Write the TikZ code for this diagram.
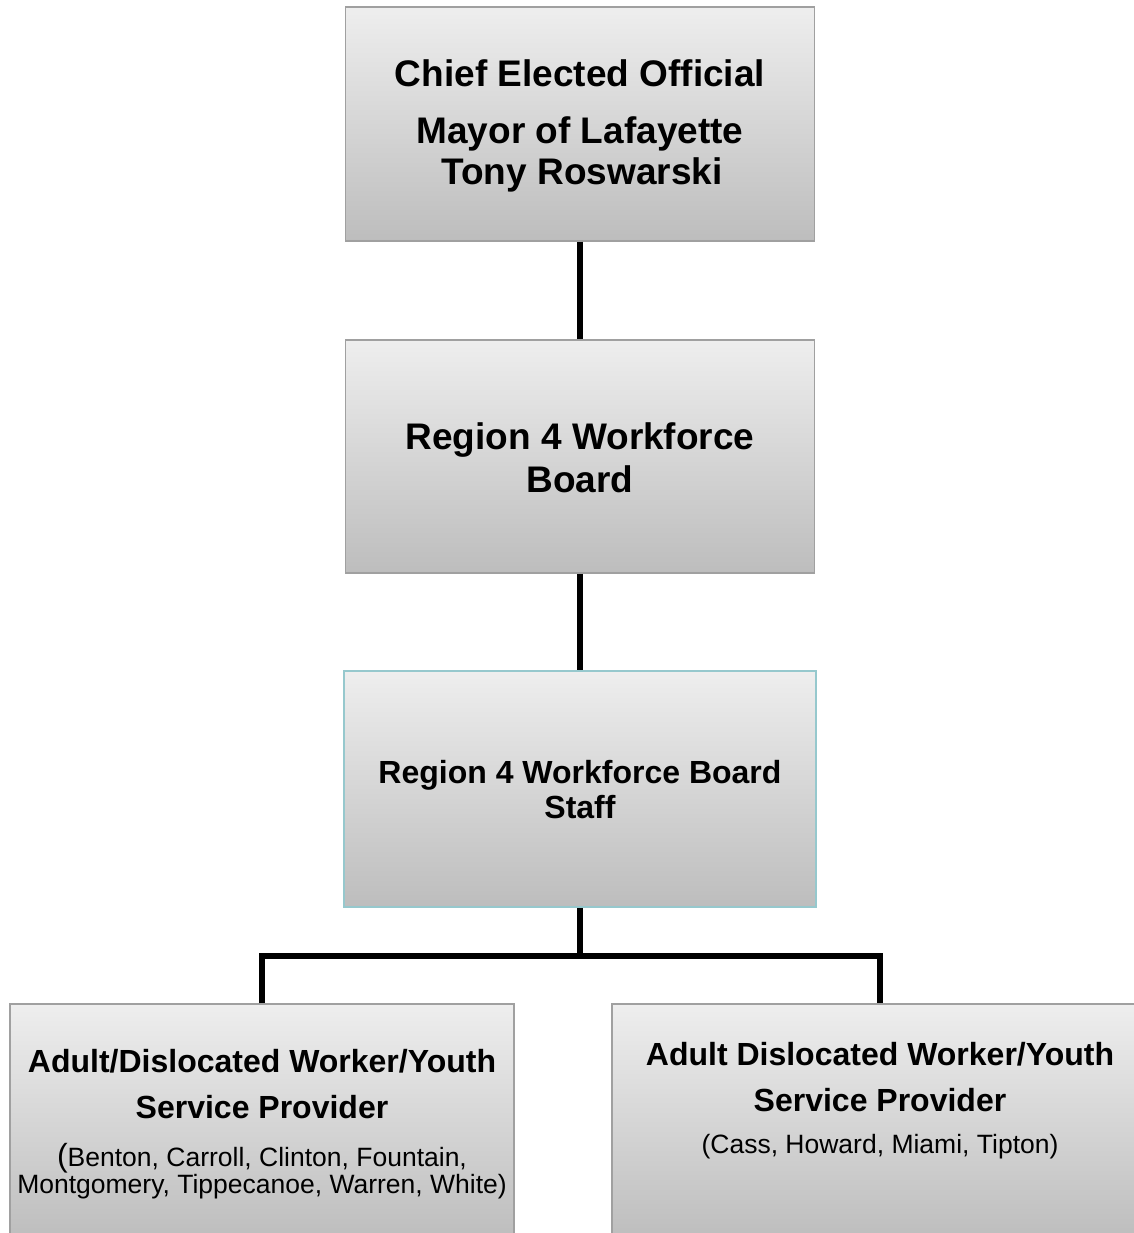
\documentclass[tikz,border=0pt]{standalone}
\usepackage{fontspec}
\setmainfont{Liberation Sans}
\definecolor{boxtop}{RGB}{238,238,238}
\definecolor{boxbottom}{RGB}{189,189,189}
\definecolor{boxline}{RGB}{160,160,160}
\definecolor{staffline}{RGB}{150,200,205}
\begin{document}
\begin{tikzpicture}[x=1pt,y=-1pt,
	every node/.append style={inner sep=0pt},
	orgbox/.style={rectangle, draw=boxline, line width=1.5pt, top color=boxtop, bottom color=boxbottom},
	bigtext/.style={anchor=base, font=\fontsize{37}{40}\selectfont\bfseries},
	midtext/.style={anchor=base, font=\fontsize{32}{35}\selectfont\bfseries},
	smalltext/.style={anchor=base, font=\fontsize{26.5}{28}\selectfont},
	stem/.style={line width=6pt, black}]
		\useasboundingbox (0,0) rectangle (1134,1233);
		\clip (0,0) rectangle (1134,1233);
		% boxes
		\node[orgbox, minimum width=469pt, minimum height=234pt] (ceo) at (580,124) {};
		\node[orgbox, minimum width=469pt, minimum height=233pt] (board) at (580,456.5) {};
		\node[orgbox, draw=staffline, minimum width=472pt, minimum height=236pt] (staff) at (580,789) {};
		\node[orgbox, minimum width=504pt, minimum height=236pt] (provwest) at (262,1122) {};
		\node[orgbox, minimum width=536pt, minimum height=236pt] (provnorth) at (880,1122) {};
		% texts
		\node[bigtext] (ceo1) at (580,87) {Chief Elected Official};
		\node[bigtext] (ceo2) at (580,144) {Mayor of Lafayette};
		\node[bigtext] (ceo3) at (582,185) {Tony Roswarski};
		\node[bigtext] (board1) at (580,449) {Region 4 Workforce};
		\node[bigtext] (board2) at (580,492) {Board};
		\node[midtext] (staff1) at (580,783) {Region 4 Workforce Board};
		\node[midtext] (staff2) at (580,818) {Staff};
		\node[midtext] (provwest1) at (262,1072) {Adult/Dislocated Worker/Youth};
		\node[midtext] (provwest2) at (262,1118) {Service Provider};
		\node[smalltext] (provwest3) at (262,1166) {{\fontsize{32}{35}\selectfont(}Benton, Carroll, Clinton, Fountain,};
		\node[smalltext] (provwest4) at (262,1193) {Montgomery, Tippecanoe, Warren, White)};
		\node[midtext] (provnorth1) at (880,1065) {Adult Dislocated Worker/Youth};
		\node[midtext] (provnorth2) at (880,1111) {Service Provider};
		\node[smalltext] (provnorth3) at (880,1153) {(Cass, Howard, Miami, Tipton)};
		% connectors
		\coordinate (split) at (580,956);
		\draw[stem] (ceo) -- (board);
		\draw[stem] (board) -- (staff);
		\draw[stem] (staff) -- (split);
		\draw[stem] (provwest.north) |- (split) -| (provnorth.north);
	\end{tikzpicture}
\end{document}
